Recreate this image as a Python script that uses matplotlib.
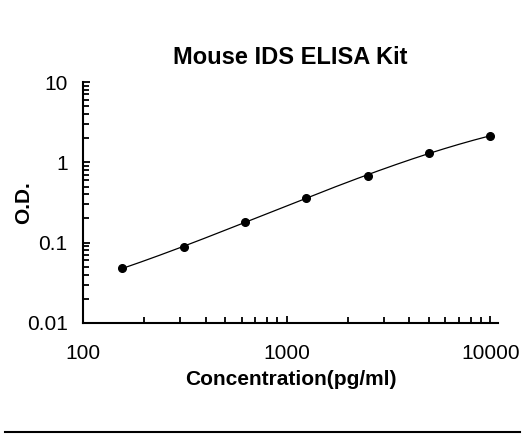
import numpy as np
import matplotlib.pyplot as plt
from matplotlib.lines import Line2D
from matplotlib.ticker import LogLocator, FixedLocator, FixedFormatter, NullFormatter

plt.rcParams['font.family'] = ['Liberation Sans', 'DejaVu Sans']

# data
conc = [156.25, 312.5, 625, 1250, 2500, 5000, 10000]
od = [0.048, 0.089, 0.182, 0.363, 0.68, 1.32, 2.13]

x_ticks = [100, 1000, 10000]
x_labels = ['100', '1000', '10000']
y_ticks = [0.01, 0.1, 1, 10]
y_labels = ['0.01', '0.1', '1', '10']

fig = plt.figure(figsize=(5.29, 4.34), dpi=100)
ax = fig.add_axes([83/529, (434-323)/434, (498-83)/529, (323-82)/434])

# smooth fitted curve (cubic in log-log space)
lx = np.log10(conc)
ly = np.log10(od)
coef = np.polyfit(lx, ly, 3)
xs = np.linspace(lx.min(), lx.max(), 200)
ax.plot(10**xs, 10**np.polyval(coef, xs), color='black', lw=0.9)
ax.plot(conc, od, 'o', color='black', ms=5.5)

ax.set_xscale('log')
ax.set_yscale('log')
ax.set_xlim(100, 10900)
ax.set_ylim(0.01, 10)

ax.xaxis.set_major_locator(FixedLocator(x_ticks))
ax.xaxis.set_major_formatter(FixedFormatter(x_labels))
ax.xaxis.set_minor_locator(LogLocator(base=10, subs=np.arange(2, 10)))
ax.xaxis.set_minor_formatter(NullFormatter())
ax.yaxis.set_major_locator(FixedLocator(y_ticks))
ax.yaxis.set_major_formatter(FixedFormatter(y_labels))
ax.yaxis.set_minor_locator(LogLocator(base=10, subs=np.arange(2, 10)))
ax.yaxis.set_minor_formatter(NullFormatter())

for s in ['top', 'right']:
    ax.spines[s].set_visible(False)
for s in ['left', 'bottom']:
    ax.spines[s].set_linewidth(1.5)

ax.tick_params(which='both', direction='in', width=1.3, labelsize=15)
ax.tick_params(which='major', length=5)
ax.tick_params(which='minor', length=4)
ax.tick_params(axis='x', which='both', pad=15)
ax.tick_params(axis='y', which='both', pad=11)

ax.set_title('Mouse IDS ELISA Kit', fontsize=17, fontweight='bold', pad=13)
ax.set_xlabel('Concentration(pg/ml)', fontsize=15, fontweight='bold', labelpad=5)
ax.set_ylabel('O.D.', fontsize=15, fontweight='bold')
ax.yaxis.set_label_coords(-0.12, 0.5)

fig.add_artist(Line2D([5/529, 520/529], [2/434, 2/434], color='black', lw=1.5))

fig.savefig('out.png', dpi=100)
